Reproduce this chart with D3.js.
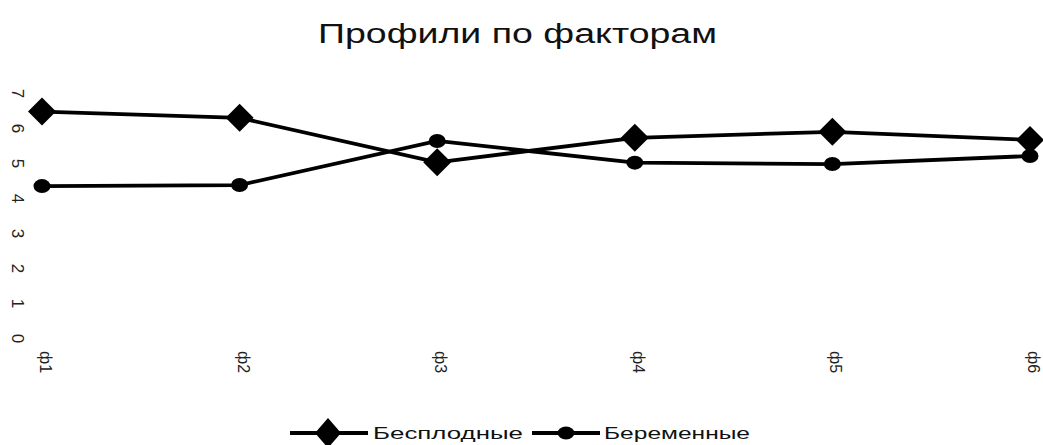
<!DOCTYPE html>
<html>
<head>
<meta charset="utf-8">
<script src="https://cdn.jsdelivr.net/npm/d3@7"></script>
<style>
  html, body { margin: 0; padding: 0; background: #fff; }
  svg { display: block; }
</style>
</head>
<body>
<svg id="chart" width="1043" height="445"></svg>
<script>
const title = "Профили по факторам";
const categories = ["ф1", "ф2", "ф3", "ф4", "ф5", "ф6"];
const seriesNames = ["Бесплодные", "Беременные"];
const infertile = [6.47, 6.29, 5.02, 5.72, 5.89, 5.66];
const pregnant = [4.34, 4.37, 5.63, 5.01, 4.97, 5.20];
const yTicks = [0, 1, 2, 3, 4, 5, 6, 7];

const svg = d3.select("#chart");
const font = "'Liberation Sans', Arial, sans-serif";

const x = d3.scalePoint().domain(categories).range([42, 1030]);
const y = d3.scaleLinear().domain([0, 7]).range([338, 93]);

// title
svg.append("text")
  .attr("x", 318).attr("y", 43)
  .attr("textLength", 399).attr("lengthAdjust", "spacingAndGlyphs")
  .attr("font-family", font).attr("font-size", 27).attr("fill", "#111")
  .text(title);

// y axis (labels only, rotated)
const yAxis = svg.append("g").attr("transform", "translate(17,0)")
  .call(d3.axisLeft(y).tickValues(yTicks).tickSize(0).tickFormat(d3.format("d")));
yAxis.select(".domain").remove();
yAxis.selectAll("text")
  .attr("x", 0).attr("dy", null)
  .attr("text-anchor", "middle").attr("dominant-baseline", "central")
  .attr("transform", "rotate(90)")
  .attr("font-family", font).attr("font-size", 17).attr("fill", "#222");

// x axis (labels only, rotated)
const xAxis = svg.append("g").attr("transform", "translate(0,338)")
  .call(d3.axisBottom(x).tickSize(0));
xAxis.select(".domain").remove();
xAxis.selectAll("text")
  .attr("x", 0).attr("y", 0).attr("dy", null)
  .attr("text-anchor", "start").attr("dominant-baseline", "central")
  .attr("transform", "translate(3,13) rotate(90)")
  .attr("font-family", font).attr("font-size", 16).attr("fill", "#222");

const line = d3.line().x((d, i) => x(categories[i])).y(d => y(d));

const diamond = (cx, cy, hw, hh) =>
  `M${cx},${cy - hh}L${cx + hw},${cy}L${cx},${cy + hh}L${cx - hw},${cy}Z`;

// series lines
svg.append("path").datum(pregnant)
  .attr("d", line).attr("fill", "none").attr("stroke", "#000").attr("stroke-width", 3.8);
svg.append("path").datum(infertile)
  .attr("d", line).attr("fill", "none").attr("stroke", "#000").attr("stroke-width", 3.8);

// markers
svg.append("g").selectAll("ellipse").data(pregnant).join("ellipse")
  .attr("cx", (d, i) => x(categories[i])).attr("cy", d => y(d))
  .attr("rx", 8.5).attr("ry", 7).attr("fill", "#000");
svg.append("g").selectAll("path").data(infertile).join("path")
  .attr("d", (d, i) => diamond(x(categories[i]), y(d), 14, 14))
  .attr("fill", "#000");

// legend
const ly = 433;
const leg = svg.append("g");
leg.append("line").attr("x1", 290).attr("x2", 368).attr("y1", ly).attr("y2", ly)
  .attr("stroke", "#000").attr("stroke-width", 3.8);
leg.append("path").attr("d", diamond(328, ly, 13, 15)).attr("fill", "#000");
leg.append("text").attr("x", 373).attr("y", ly + 6)
  .attr("textLength", 150).attr("lengthAdjust", "spacingAndGlyphs")
  .attr("font-family", font).attr("font-size", 17).attr("fill", "#111")
  .text(seriesNames[0]);
leg.append("line").attr("x1", 532).attr("x2", 600).attr("y1", ly).attr("y2", ly)
  .attr("stroke", "#000").attr("stroke-width", 3.8);
leg.append("ellipse").attr("cx", 566).attr("cy", ly).attr("rx", 8.5).attr("ry", 6.5).attr("fill", "#000");
leg.append("text").attr("x", 604).attr("y", ly + 6)
  .attr("textLength", 146).attr("lengthAdjust", "spacingAndGlyphs")
  .attr("font-family", font).attr("font-size", 17).attr("fill", "#111")
  .text(seriesNames[1]);
</script>
</body>
</html>
